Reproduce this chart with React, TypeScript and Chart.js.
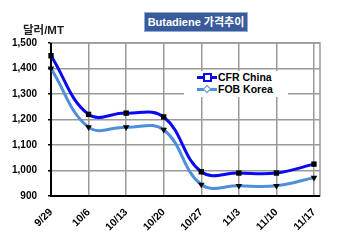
import React, { useEffect, useRef } from "react";
import { Chart, registerables } from "chart.js";

Chart.register(...registerables);

const categories = ["9/29", "10/6", "10/13", "10/20", "10/27", "11/3", "11/10", "11/17"];
const cfrChina = [1450, 1220, 1225, 1210, 995, 990, 990, 1025];
const fobKorea = [1400, 1170, 1170, 1160, 945, 940, 940, 972];
const yTicks = [900, 1000, 1100, 1200, 1300, 1400, 1500];

const FONT = "'Liberation Sans', Arial, 'Noto Sans CJK KR', sans-serif";
const CFR_COLOR = "#0a0af0";
const FOB_COLOR = "#4d8fdc";

const frame = {
  id: "frame",
  beforeDatasetsDraw(chart: any) {
    const { ctx, chartArea } = chart;
    ctx.save();
    ctx.strokeStyle = "#9a9a9a";
    ctx.lineWidth = 1.5;
    ctx.strokeRect(chartArea.left, chartArea.top, chartArea.right - chartArea.left, chartArea.bottom - chartArea.top);
    ctx.strokeStyle = "#000";
    ctx.lineWidth = 2;
    ctx.beginPath();
    ctx.moveTo(chartArea.left, chartArea.top);
    ctx.lineTo(chartArea.left, chartArea.bottom);
    ctx.lineTo(chartArea.right, chartArea.bottom);
    ctx.stroke();
    ctx.restore();
  },
};

export default function App() {
  const ref = useRef<HTMLCanvasElement | null>(null);
  useEffect(() => {
    if (!ref.current) return;
    const chart = new Chart(ref.current, {
      type: "line",
      data: {
        datasets: [
          {
            label: "CFR China",
            data: cfrChina.map((v, i) => ({ x: i, y: v })),
            borderColor: CFR_COLOR,
            borderWidth: 3,
            tension: 0.4,
            pointStyle: "rect",
            pointRadius: 3.8,
            pointBackgroundColor: "#000",
            pointBorderColor: "#000",
            pointBorderWidth: 0,
            clip: false as any,
          },
          {
            label: "FOB Korea",
            data: fobKorea.map((v, i) => ({ x: i, y: v })),
            borderColor: FOB_COLOR,
            borderWidth: 3,
            tension: 0.4,
            pointStyle: "triangle",
            pointRotation: 180,
            pointRadius: 3.8,
            pointBackgroundColor: "#000",
            pointBorderColor: "#000",
            pointBorderWidth: 0,
            clip: false as any,
          },
        ],
      },
      options: {
        animation: false,
        responsive: false,
        events: [],
        layout: { padding: { left: 0, top: 43, right: 30, bottom: 0 } },
        plugins: { legend: { display: false }, tooltip: { enabled: false } },
        scales: {
          x: {
            type: "linear",
            min: 0,
            max: 7.16,
            afterFit: (s: any) => {
              s.height = 44;
            },
            afterBuildTicks: (s: any) => {
              s.ticks = categories.map((_, i) => ({ value: i }));
            },
            ticks: {
              callback: (v: any) => categories[v] ?? "",
              minRotation: 45,
              maxRotation: 45,
              padding: 10,
              color: "#000",
              font: { family: FONT, size: 10.5, weight: "bold" },
            },
            grid: { color: "#9a9a9a", lineWidth: 1.5, drawTicks: false },
            border: { display: false },
          },
          y: {
            min: 900,
            max: 1500,
            afterFit: (s: any) => {
              s.width = 51;
            },
            afterBuildTicks: (s: any) => {
              s.ticks = yTicks.map((v) => ({ value: v }));
            },
            ticks: {
              callback: (v: any) => Number(v).toLocaleString("en-US"),
              padding: 11,
              color: "#000",
              font: { family: FONT, size: 10, weight: "bold" },
            },
            grid: { color: "#9a9a9a", lineWidth: 1.5, drawTicks: true, tickLength: 3, tickColor: "#000" },
            border: { display: false },
          },
        },
      },
      plugins: [frame],
    });
    return () => chart.destroy();
  }, []);

  const legendRow = (label: string, color: string, marker: "square" | "diamond", top: number) => (
    <div style={{ position: "absolute", left: 197, top, height: 12, display: "flex", alignItems: "center" }}>
      <div style={{ position: "relative", width: 20, height: 12 }}>
        <div style={{ position: "absolute", left: 0, top: 4.5, width: 20, height: 3, background: color }} />
        {marker === "square" ? (
          <div style={{ position: "absolute", left: 6, top: 2, width: 5, height: 5, background: "#fff", border: `2px solid ${color}` }} />
        ) : (
          <div style={{ position: "absolute", left: 7, top: 3, width: 4, height: 4, background: "#fff", border: `1px solid ${color}`, transform: "rotate(45deg)" }} />
        )}
      </div>
      <span style={{ fontFamily: FONT, fontWeight: "bold", fontSize: 10.5, color: "#000", marginLeft: 1, lineHeight: "12px" }}>{label}</span>
    </div>
  );

  return (
    <div style={{ position: "fixed", left: 0, top: 0, width: 350, height: 240, background: "#fff", overflow: "hidden" }}>
      <canvas ref={ref} width={350} height={240} style={{ position: "absolute", left: 0, top: 0 }} />
      <div
        style={{
          position: "absolute",
          left: 144,
          top: 12,
          width: 102,
          height: 18,
          background: "#3a5b9a",
          border: "1px solid #8faadc",
          color: "#fff",
          fontFamily: FONT,
          fontWeight: "bold",
          fontSize: 11,
          lineHeight: "18px",
          textAlign: "center",
          whiteSpace: "nowrap",
        }}
      >
        Butadiene 가격추이
      </div>
      <div
        style={{
          position: "absolute",
          left: 23,
          top: 21,
          fontFamily: FONT,
          fontWeight: "bold",
          fontSize: 11.5,
          color: "#222",
          whiteSpace: "nowrap",
        }}
      >
        달러/MT
      </div>
      <div style={{ position: "absolute", left: 184, top: 71, width: 104, height: 26, background: "#fff" }} />
      {legendRow("CFR China", CFR_COLOR, "square", 71)}
      {legendRow("FOB Korea", FOB_COLOR, "diamond", 83)}
    </div>
  );
}
